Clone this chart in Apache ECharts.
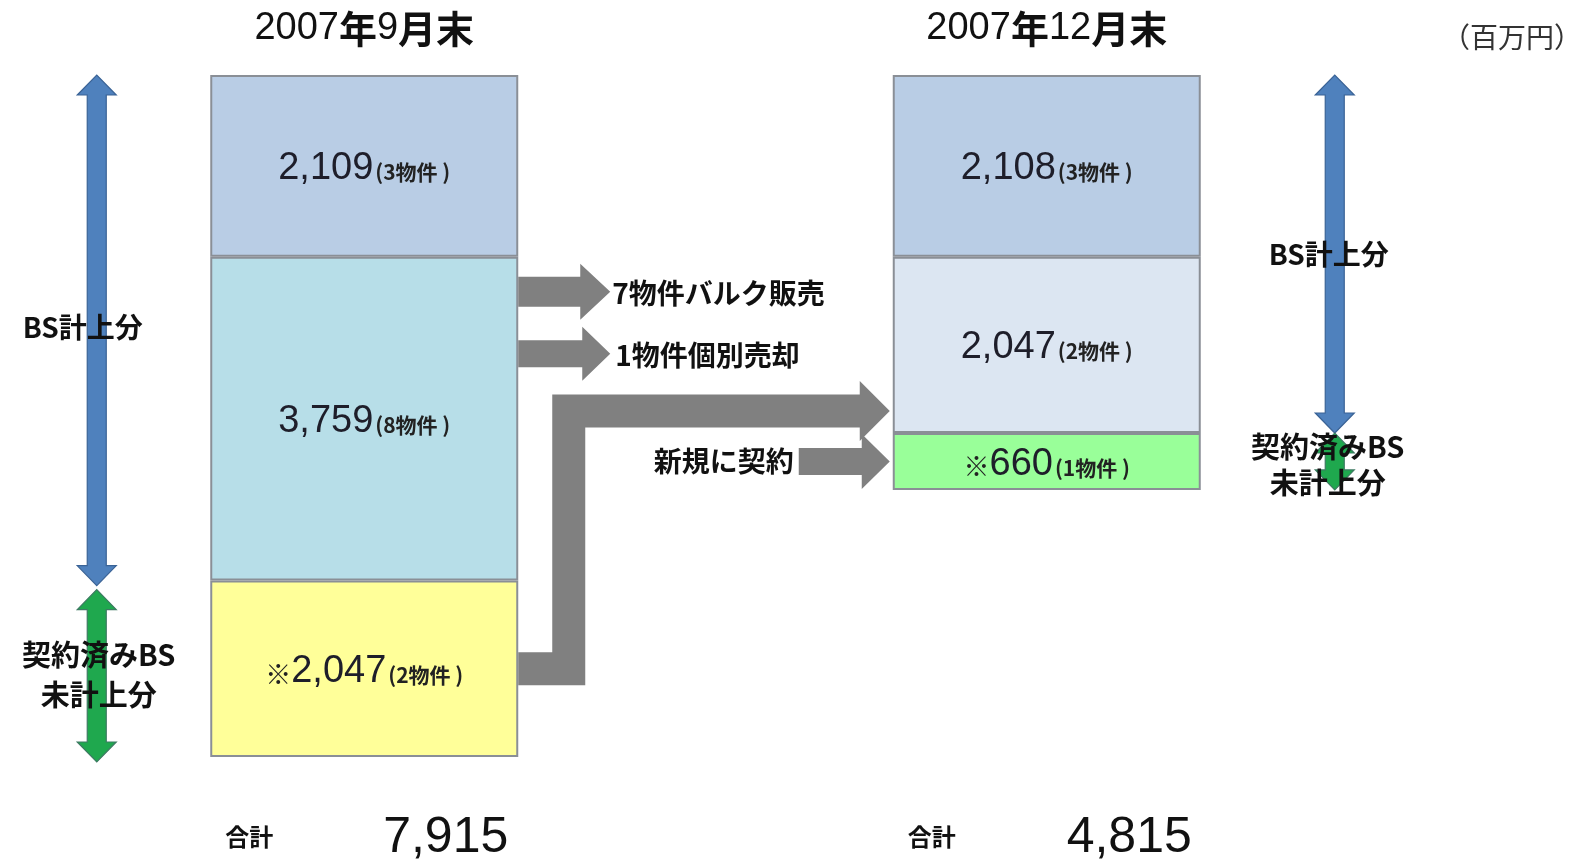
<!DOCTYPE html>
<html><head><meta charset="utf-8">
<script src="https://cdn.jsdelivr.net/npm/echarts@6/dist/echarts.min.js"></script>
<style>html,body{margin:0;padding:0;background:#fff}#c{width:1584px;height:864px}</style>
</head><body><div id="c"></div>
<script>
// ---- data ----
const categories = ['2007年9月末', '2007年12月末'];
const topValues = [2109, 2108];
const topCounts = [3, 3];
const midValues = [3759, 2047];
const midCounts = [8, 2];
const lowValues = [2047, 660];
const lowCounts = [2, 1];
const unitLabel = '（百万円）';
const flowLabels = ['7物件バルク販売', '1物件個別売却', '新規に契約'];
const sideLabels = ['BS計上分', '契約済みBS\n未計上分'];
const totalLabel = '合計';

const totals = categories.map((_, i) => topValues[i] + midValues[i] + lowValues[i]);
const fmt = v => v.toLocaleString('en-US');

const LATIN = "'Liberation Sans', 'Noto Sans CJK JP', sans-serif";
const CJK = "'Noto Sans CJK JP', 'Liberation Sans', sans-serif";
const BAR_W = 308;

const topColors = ['#b9cde5', '#b9cde5'];
const midColors = ['#b7dee8', '#dce6f2'];
const lowColors = ['#ffff99', '#99ff99'];

const richLabel = {
  s: { fontSize: 26, fontFamily: CJK, color: '#222', padding: [4, 0, 0, 0] },
  v: { fontSize: 38, fontFamily: LATIN, color: '#1e1e2a' },
  p: { fontSize: 21, fontFamily: CJK, fontWeight: 'bold', color: '#222', padding: [7, 0, 0, 2] }
};

function mkSeries(name, values, counts, colors, noted) {
  return {
    name, type: 'bar', stack: 'total', barWidth: BAR_W, clip: false,
    data: values,
    itemStyle: {
      color: p => colors[p.dataIndex],
      borderColor: '#8a8f96', borderWidth: 2
    },
    label: {
      show: true, position: 'inside', offset: [0, 3],
      formatter: p => (noted ? '{s|※}' : '') + '{v|' + fmt(p.value) + '}{p|(' + counts[p.dataIndex] + '物件 )}',
      rich: richLabel
    }
  };
}

const chart = echarts.init(document.getElementById('c'), null, { renderer: 'canvas' });
chart.setOption({
  backgroundColor: '#ffffff',
  animation: false,
  title: {
    text: unitLabel, left: 1437, top: 18,
    textStyle: { fontSize: 28, fontWeight: 'normal', color: '#333', fontFamily: CJK }
  },
  grid: { left: 23, right: 196, top: 75, bottom: 107 },
  xAxis: {
    type: 'category', position: 'top', data: categories,
    axisLine: { show: false }, axisTick: { show: false }, splitLine: { show: false },
    axisLabel: {
      margin: 27, fontSize: 38, color: '#111', fontFamily: LATIN,
      formatter: v => v.replace(/([年月末])/g, '{k|$1}'),
      rich: { k: { fontSize: 38, fontWeight: 'bold', color: '#111', fontFamily: CJK } }
    }
  },
  yAxis: {
    type: 'value', inverse: true, min: 0, max: Math.max(...totals), show: false
  },
  series: [
    mkSeries('top', topValues, topCounts, topColors, false),
    mkSeries('mid', midValues, midCounts, midColors, false),
    mkSeries('low', lowValues, lowCounts, lowColors, true)
  ]
});

// ---- annotations positioned through the chart's own scales ----
const px = (ci, v) => chart.convertToPixel({ gridIndex: 0 }, [ci, v]);
const edges = ci => { const c = px(ci, 0)[0]; return [c - BAR_W / 2, c + BAR_W / 2]; };
const ys = ci => [0, topValues[ci], topValues[ci] + midValues[ci], totals[ci]].map(v => px(ci, v)[1]);

const [l0, r0] = edges(0), [l1, r1] = edges(1);
const Y0 = ys(0), Y1 = ys(1);
const GRAY = '#808080';

function hArrow(xs, xt, yc, sh, hh, hl) {
  const xh = xt - hl;
  return { type: 'polygon', z: 5, shape: { points: [
    [xs, yc - sh], [xh, yc - sh], [xh, yc - hh], [xt, yc], [xh, yc + hh], [xh, yc + sh], [xs, yc + sh]
  ] }, style: { fill: GRAY } };
}
function lArrow(xs, ys0, xv, yh, xt, sh, hh, hl) {
  const xh = xt - hl;
  return { type: 'polygon', z: 5, shape: { points: [
    [xs, ys0 + sh], [xv + sh, ys0 + sh], [xv + sh, yh + sh], [xh, yh + sh], [xh, yh + hh], [xt, yh],
    [xh, yh - hh], [xh, yh - sh], [xv - sh, yh - sh], [xv - sh, ys0 - sh], [xs, ys0 - sh]
  ] }, style: { fill: GRAY } };
}
function vArrow(x, y1, y2, fill, stroke) {
  const sw = 9.5, hw = 19.5, hl = 20;
  return { type: 'polygon', z: 6, shape: { points: [
    [x - hw, y1 + hl], [x, y1], [x + hw, y1 + hl], [x + sw, y1 + hl], [x + sw, y2 - hl],
    [x + hw, y2 - hl], [x, y2], [x - hw, y2 - hl], [x - sw, y2 - hl], [x - sw, y1 + hl]
  ] }, style: { fill, stroke, lineWidth: 1.2 } };
}
function txt(text, x, y, size, align, weight, extra) {
  return { type: 'text', z: 10, style: Object.assign({
    text, x, y, fontSize: size, fontWeight: weight || 'bold', fontFamily: CJK,
    fill: '#111', align: align || 'left', verticalAlign: 'middle'
  }, extra || {}) };
}

const a1y = Y0[1] + 35, a2y = Y0[1] + 97;
const a3y0 = (Y0[2] + Y0[3]) / 2, a3yh = Y1[2] - 22, a3xv = r0 + 50.5;
const a4y = (Y1[2] + Y1[3]) / 2;
const lx = l0 - 113.5, rx = r1 + 134;
const totY = px(0, Math.max(...totals))[1] + 81;

const BLUE = '#4f81bd', BLUE_S = '#3a6396', GREEN = '#1fa84e', GREEN_S = '#3d7a62';

chart.setOption({
  graphic: [
    hArrow(r0, r0 + 92, a1y, 15, 28, 30),
    hArrow(r0, r0 + 92, a2y, 13.5, 27, 28),
    lArrow(r0, a3y0, a3xv, a3yh, l1 - 3, 16.5, 30, 30),
    hArrow(l1 - 94, l1 - 3, a4y, 13.5, 27.5, 28),
    txt(flowLabels[0], r0 + 94, a1y + 2, 28),
    txt(flowLabels[1], r0 + 97, a2y + 2, 28),
    txt(flowLabels[2], l1 - 99, a4y, 28, 'right'),

    vArrow(lx, Y0[0], Y0[2] + 5, BLUE, BLUE_S),
    vArrow(lx, Y0[2] + 9, Y0[3] + 5, GREEN, GREEN_S),
    vArrow(rx, Y1[0], Y1[2], BLUE, BLUE_S),
    vArrow(rx, Y1[2], Y1[3], GREEN, GREEN_S),
    txt(sideLabels[0], lx - 14, (Y0[0] + Y0[2]) / 2, 28, 'center'),
    txt(sideLabels[1], lx + 2, (Y0[2] + Y0[3]) / 2 + 6, 29, 'center', 'bold', { lineHeight: 40 }),
    txt(sideLabels[0], rx - 6, (Y1[0] + Y1[2]) / 2, 28, 'center'),
    txt(sideLabels[1], rx - 7, (Y1[2] + Y1[3]) / 2 + 4, 29, 'center', 'bold', { lineHeight: 36 }),

    txt(totalLabel, l0 + 15, totY - 1, 24),
    txt(fmt(totals[0]), r0 - 10, totY, 50, 'right', 'normal', { fontFamily: LATIN, fill: '#111' }),
    txt(totalLabel, l1 + 15, totY - 1, 24),
    txt(fmt(totals[1]), r1 - 9, totY, 50, 'right', 'normal', { fontFamily: LATIN, fill: '#111' })
  ]
});
</script>
</body></html>
